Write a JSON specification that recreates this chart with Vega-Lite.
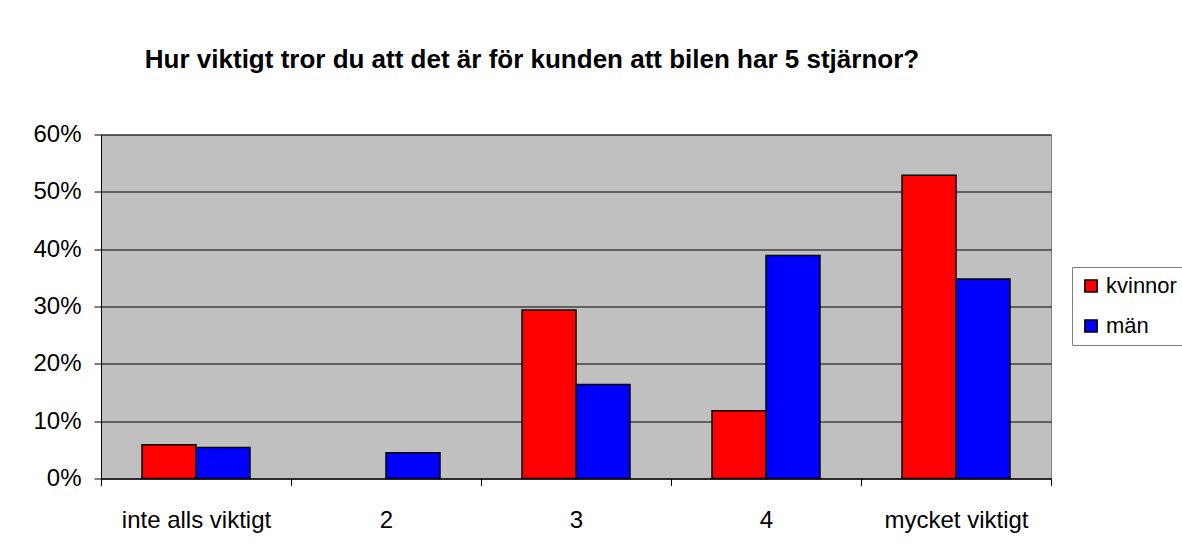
{
  "$schema": "https://vega.github.io/schema/vega-lite/v6.json",
  "width": 950,
  "height": 344,
  "autosize": {"type": "none"},
  "padding": {"left": 101, "top": 134.5, "right": 131, "bottom": 73.5},
  "background": "white",
  "title": {
    "text": "Hur viktigt tror du att det är för kunden att bilen har 5 stjärnor?",
    "font": "Liberation Sans",
    "fontSize": 26,
    "fontWeight": "bold",
    "color": "#000",
    "anchor": "middle",
    "dx": -44,
    "baseline": "alphabetic",
    "offset": 29
  },
  "data": {
    "values": [
      {"kategori": "inte alls viktigt", "kon": "kvinnor", "andel": 0.059},
      {"kategori": "inte alls viktigt", "kon": "män", "andel": 0.054},
      {"kategori": "2", "kon": "kvinnor", "andel": 0.0},
      {"kategori": "2", "kon": "män", "andel": 0.045},
      {"kategori": "3", "kon": "kvinnor", "andel": 0.294},
      {"kategori": "3", "kon": "män", "andel": 0.164},
      {"kategori": "4", "kon": "kvinnor", "andel": 0.118},
      {"kategori": "4", "kon": "män", "andel": 0.389},
      {"kategori": "mycket viktigt", "kon": "kvinnor", "andel": 0.529},
      {"kategori": "mycket viktigt", "kon": "män", "andel": 0.348}
    ]
  },
  "mark": {"type": "bar", "stroke": "#000", "strokeWidth": 1.5},
  "encoding": {
    "x": {
      "field": "kategori",
      "type": "nominal",
      "sort": ["inte alls viktigt", "2", "3", "4", "mycket viktigt"],
      "scale": {"paddingInner": 0, "paddingOuter": 0},
      "axis": {
        "title": null,
        "labelAngle": 0,
        "labelFont": "Liberation Sans",
        "labelFontSize": 24,
        "labelColor": "#000",
        "labelPadding": 23,
        "tickBand": "extent",
        "tickSize": 7,
        "tickColor": "#000",
        "domainColor": "#000",
        "domainWidth": 1,
        "grid": false
      }
    },
    "xOffset": {
      "field": "kon",
      "type": "nominal",
      "sort": ["kvinnor", "män"],
      "scale": {"paddingInner": 0, "paddingOuter": 0.76}
    },
    "y": {
      "field": "andel",
      "type": "quantitative",
      "scale": {"domain": [0, 0.6], "nice": false},
      "axis": {
        "title": null,
        "format": ".0%",
        "values": [0, 0.1, 0.2, 0.3, 0.4, 0.5, 0.6],
        "labelFont": "Liberation Sans",
        "labelFontSize": 24,
        "labelColor": "#000",
        "labelPadding": 13,
        "tickSize": 7,
        "tickColor": "#000",
        "domainColor": "#000",
        "gridColor": "#000",
        "gridWidth": 1,
        "gridOpacity": 1
      }
    },
    "strokeOpacity": {
      "condition": {"test": "datum.andel == 0", "value": 0},
      "value": 1
    },
    "color": {
      "field": "kon",
      "type": "nominal",
      "sort": ["kvinnor", "män"],
      "scale": {"domain": ["kvinnor", "män"], "range": ["#FF0000", "#0000FF"]},
      "legend": {
        "title": null,
        "orient": "none",
        "legendX": 971,
        "legendY": 132.5,
        "symbolType": "square",
        "symbolSize": 150,
        "symbolStrokeColor": "#000",
        "symbolStrokeWidth": 1.5,
        "symbolOpacity": 1,
        "labelFont": "Liberation Sans",
        "labelFontSize": 22,
        "labelColor": "#000",
        "labelOffset": 4,
        "rowPadding": 18,
        "padding": 8,
        "strokeColor": "#808080",
        "fillColor": "white"
      }
    }
  },
  "config": {
    "view": {"fill": "#C0C0C0", "stroke": "#808080", "strokeWidth": 1}
  }
}
